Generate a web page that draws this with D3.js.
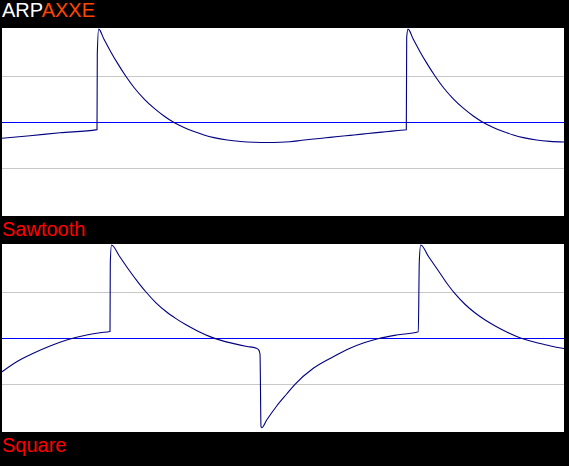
<!DOCTYPE html>
<html>
<head>
<meta charset="utf-8">
<script src="https://cdn.jsdelivr.net/npm/d3@7"></script>
<style>
html,body{margin:0;padding:0;background:#000;}
svg{display:block;}
</style>
</head>
<body>
<script>
// ---- DATA ----
const titleParts = ["ARP", "AXXE"];
const panelNames = ["Sawtooth", "Square"];
const gridValues = [-1, 0, 1];

// time samples (arbitrary units) and signal level
const sawT = [0, 28, 58, 95, 95.3, 96.7, 102, 108.7, 115.3, 123.7, 132, 142, 152, 162, 172, 182, 192, 202, 212, 225.3, 238.7, 252, 266, 278, 288, 300, 312, 324, 336, 348, 360, 372, 384, 396, 404.3, 404.7, 406, 411.3, 418, 424.6, 433, 441.3, 451.3, 461.3, 471.3, 481.3, 491.3, 501.3, 511.3, 521.3, 534.6, 548, 562];
const sawV = [-0.354, -0.298, -0.235, -0.165, 1.478, 2.02, 1.797, 1.529, 1.285, 0.999, 0.750, 0.505, 0.300, 0.130, -0.012, -0.120, -0.208, -0.282, -0.340, -0.393, -0.425, -0.441, -0.446, -0.441, -0.428, -0.398, -0.370, -0.343, -0.316, -0.290, -0.264, -0.237, -0.211, -0.185, -0.167, 1.841, 2.02, 1.797, 1.529, 1.285, 0.999, 0.750, 0.505, 0.300, 0.130, -0.012, -0.120, -0.208, -0.282, -0.340, -0.393, -0.422, -0.436];

const sqrT = [0, 14.7, 31.3, 48, 64.7, 84.7, 98, 108, 108.3, 109.5, 117.3, 127.3, 137.3, 144, 154, 164, 174, 184, 196, 208, 220, 233, 245, 254, 256.5, 258, 259, 259.7, 264.7, 274.7, 284.7, 293, 311.3, 331.3, 348, 362, 376, 394.7, 416.3, 417.3, 418.7, 426.5, 436.5, 446.5, 453.2, 463.2, 473.2, 483.2, 493.2, 505.2, 517.2, 529.2, 542.2, 554.2, 562];
const sqrV = [-0.733, -0.515, -0.333, -0.174, -0.043, 0.065, 0.115, 0.141, 1.624, 2.022, 1.783, 1.467, 1.178, 1.000, 0.765, 0.576, 0.422, 0.287, 0.148, 0.030, -0.057, -0.128, -0.183, -0.220, -0.252, -0.348, -1.928, -1.950, -1.783, -1.478, -1.217, -1.007, -0.659, -0.407, -0.224, -0.104, -0.017, 0.065, 0.137, 1.659, 2.022, 1.772, 1.457, 1.141, 0.957, 0.728, 0.543, 0.391, 0.261, 0.126, 0.013, -0.070, -0.141, -0.200, -0.230];

// ---- CHART ----
const W = 569, H = 466;
const svg = d3.select("body").append("svg").attr("width", W).attr("height", H)
  .style("font-family", "'Liberation Sans', Arial, sans-serif");
svg.append("rect").attr("width", W).attr("height", H).attr("fill", "#000");

const title = svg.append("text").attr("x", 2).attr("y", 17).attr("font-size", 20);
title.append("tspan").attr("fill", "#ffffff").text(titleParts[0]);
title.append("tspan").attr("fill", "#ff4500").text(titleParts[1]);

const panels = [
  {name: panelNames[0], t: sawT, v: sawV, top: 28},
  {name: panelNames[1], t: sqrT, v: sqrV, top: 244}
];
const pw = 562, ph = 188, px = 2;

const x = d3.scaleLinear().domain([0, 562]).range([px, px + pw]);

panels.forEach(p => {
  const y = d3.scaleLinear().domain([-2, 2]).range([p.top + ph - 2, p.top + 2]);
  const g = svg.append("g");
  g.append("rect").attr("x", px).attr("y", p.top).attr("width", pw).attr("height", ph).attr("fill", "#fff");
  g.selectAll("line.grid").data(gridValues).enter().append("line")
    .attr("x1", px).attr("x2", px + pw)
    .attr("y1", d => Math.round(y(d)) + 0.5).attr("y2", d => Math.round(y(d)) + 0.5)
    .attr("stroke", d => d === 0 ? "#0000ff" : "#c8c8c8")
    .attr("stroke-width", 1)
    .attr("shape-rendering", "crispEdges");
  const pts = p.t.map((t, i) => [t, p.v[i]]);
  const line = d3.line().x(d => x(d[0])).y(d => y(d[1])).curve(d3.curveMonotoneX);
  g.append("path").attr("d", line(pts)).attr("fill", "none")
    .attr("stroke", "#000080").attr("stroke-width", 1.1);
  svg.append("text").attr("x", 2).attr("y", p.top + ph + 20)
    .attr("font-size", 20).attr("fill", "#ff0000").text(p.name);
});
</script>
</body>
</html>
